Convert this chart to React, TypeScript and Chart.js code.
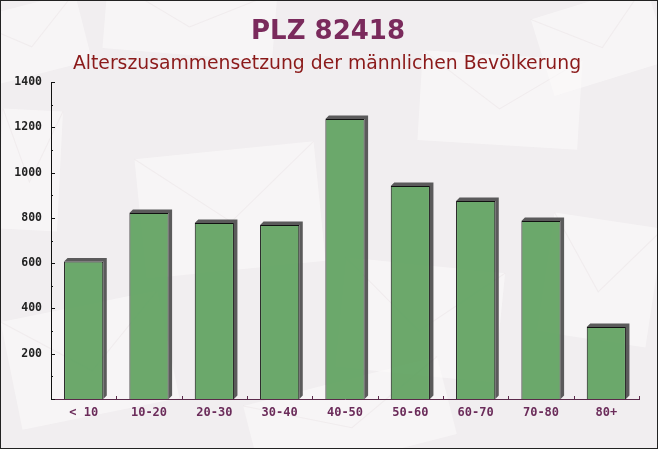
import React, { useEffect, useRef } from "react";
import { Chart, registerables } from "chart.js";

Chart.register(...registerables);

const categories = ["< 10", "10-20", "20-30", "30-40", "40-50", "50-60", "60-70", "70-80", "80+"];
const maleCounts = [607, 821, 777, 769, 1237, 941, 875, 786, 318];
const titleText = "PLZ 82418";
const subtitleText = "Alterszusammensetzung der männlichen Bevölkerung";
const yMin = 0;
const yMax = 1400;
const yStep = 200;
const yMinorStep = 100;

const envelopes: Array<[number, number, number, number, number]> = [
  [30, 40, 110, 70, -0.25],
  [190, 20, 170, 70, 0.08],
  [500, 100, 160, 90, 0.06],
  [600, 40, 120, 80, -0.3],
  [230, 210, 180, 120, -0.1],
  [90, 360, 160, 110, -0.2],
  [420, 320, 160, 110, 0.1],
  [600, 280, 110, 120, 0.15],
  [350, 420, 200, 80, -0.25],
  [30, 170, 60, 120, 0.05],
];

const decorPlugin = {
  id: "decor",
  beforeDraw(chart: any) {
    const ctx = chart.ctx;
    const w = chart.width;
    const h = chart.height;
    ctx.save();
    ctx.fillStyle = "#f1eef0";
    ctx.fillRect(0, 0, w, h);
    for (const [cx, cy, ew, eh, rot] of envelopes) {
      ctx.save();
      ctx.translate(cx, cy);
      ctx.rotate(rot);
      ctx.fillStyle = "rgba(252,250,250,0.6)";
      ctx.fillRect(-ew / 2, -eh / 2, ew, eh);
      ctx.strokeStyle = "rgba(225,215,218,0.3)";
      ctx.lineWidth = 1;
      ctx.beginPath();
      ctx.moveTo(-ew / 2, -eh / 2);
      ctx.lineTo(0, eh * 0.1);
      ctx.lineTo(ew / 2, -eh / 2);
      ctx.stroke();
      ctx.restore();
    }
    // titles
    ctx.textAlign = "center";
    ctx.textBaseline = "alphabetic";
    ctx.fillStyle = "#7a2a5c";
    ctx.font = "bold 26px 'DejaVu Sans'";
    ctx.fillText(titleText, 328, 39);
    ctx.fillStyle = "#8b1a1a";
    ctx.font = "18.8px 'DejaVu Sans'";
    ctx.fillText(subtitleText, 327, 69);
    ctx.restore();
  },
  beforeDatasetsDraw(chart: any) {
    const ctx = chart.ctx;
    const meta = chart.getDatasetMeta(0);
    const d = 3.5;
    ctx.save();
    ctx.fillStyle = "rgba(70,70,70,0.88)";
    for (const el of meta.data) {
      const { x, y, base, width } = el as any;
      const left = x - width / 2;
      const right = x + width / 2;
      ctx.beginPath();
      ctx.moveTo(left, y);
      ctx.lineTo(left + d, y - d);
      ctx.lineTo(right + d, y - d);
      ctx.lineTo(right + d, base - d);
      ctx.lineTo(right, base);
      ctx.lineTo(right, y);
      ctx.closePath();
      ctx.fill();
    }
    ctx.restore();
  },
  afterDraw(chart: any) {
    const ctx = chart.ctx;
    const ys = chart.scales.y;
    const xs = chart.scales.x;
    const area = chart.chartArea;
    ctx.save();
    ctx.strokeStyle = "#111";
    ctx.lineWidth = 1;
    for (let v = yMin; v <= yMax; v += yMinorStep) {
      const py = Math.round(ys.getPixelForValue(v)) + 0.5;
      const len = v % yStep === 0 ? 4 : 2;
      ctx.beginPath();
      ctx.moveTo(area.left, py);
      ctx.lineTo(area.left + len, py);
      ctx.stroke();
    }
    ctx.strokeStyle = "#5a2a4a";
    const step = xs.getPixelForValue(1) - xs.getPixelForValue(0);
    for (let i = 0; i < categories.length; i++) {
      const px = Math.round(xs.getPixelForValue(i) + step / 2) + 0.5;
      ctx.beginPath();
      ctx.moveTo(px, area.bottom);
      ctx.lineTo(px, area.bottom - 3);
      ctx.stroke();
    }
    ctx.strokeStyle = "#222";
    ctx.strokeRect(0.5, 0.5, chart.width - 1, chart.height - 1);
    ctx.restore();
  },
};

export default function App() {
  const ref = useRef<HTMLCanvasElement | null>(null);
  useEffect(() => {
    document.body.style.margin = "0";
    const canvas = ref.current;
    if (!canvas) return;
    const chart = new Chart(canvas, {
      type: "bar",
      data: {
        labels: categories,
        datasets: [
          {
            data: maleCounts,
            backgroundColor: "rgba(92,160,92,0.9)",
            borderColor: "#111",
            borderWidth: 1,
            barPercentage: 0.6,
            categoryPercentage: 1,
          },
        ],
      },
      options: {
        responsive: false,
        animation: false,
        layout: { padding: { left: 0, top: 82, right: 19, bottom: 0 } },
        plugins: {
          legend: { display: false },
          title: { display: false },
          tooltip: { enabled: false },
        },
        scales: {
          x: {
            grid: { display: false, drawTicks: false },
            border: { display: true, color: "#5a2a4a", width: 1 },
            ticks: {
              color: "#6b2c5a",
              padding: 7,
              font: { family: "'DejaVu Sans Mono'", size: 12, weight: "bold" },
              maxRotation: 0,
            },
            afterFit: (s: any) => {
              s.height = 50;
            },
          },
          y: {
            min: yMin,
            max: yMax,
            grid: { display: false, drawTicks: false },
            border: { display: true, color: "#111", width: 1 },
            ticks: {
              stepSize: yStep,
              color: "#222",
              padding: 9,
              font: { family: "'DejaVu Sans Mono'", size: 11.5, weight: "bold" },
              callback: (v: any) => (Number(v) === 0 ? "" : String(v)),
            },
            afterFit: (s: any) => {
              s.width = 51;
            },
          },
        },
      },
      plugins: [decorPlugin],
    });
    return () => chart.destroy();
  }, []);
  return (
    <div style={{ position: "absolute", left: 0, top: 0, width: 658, height: 449 }}>
      <canvas ref={ref} width={658} height={449} style={{ display: "block" }} />
    </div>
  );
}
